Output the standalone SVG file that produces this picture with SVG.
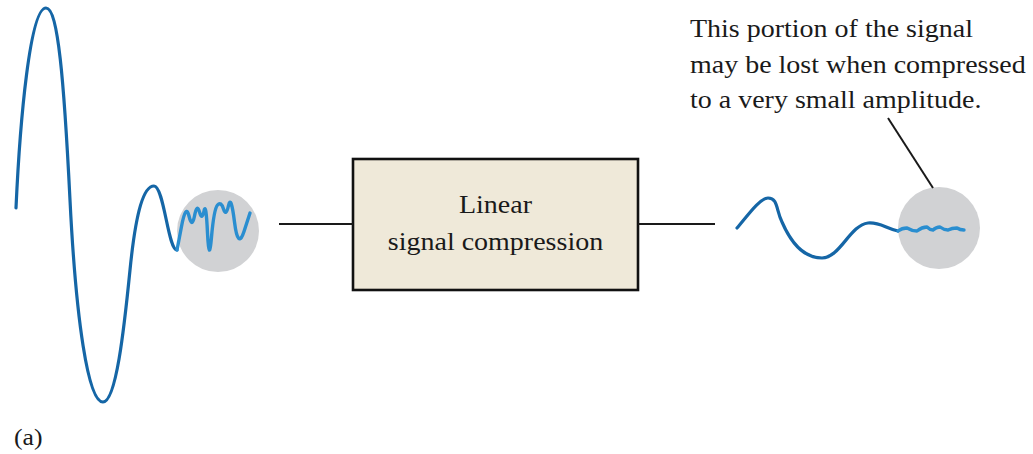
<svg xmlns="http://www.w3.org/2000/svg" width="1033" height="454" viewBox="0 0 1033 454">
<style>
.t{font-family:"Liberation Serif","Times New Roman",serif;font-size:25px;fill:#1a1a1a}
.sig{fill:none;stroke:#1566a6;stroke-width:3.2;stroke-linecap:round;stroke-linejoin:round}
.fine{fill:none;stroke:#2a8ed0;stroke-width:3.4;stroke-linecap:round;stroke-linejoin:round}
.lens{fill:#d1d2d4}
.wire{stroke:#1a1a1a;stroke-width:2;fill:none}
</style>
<g id="input-signal">
<circle class="lens" cx="218" cy="231" r="41"/>
<path class="sig" d="M16,208 C20,120 30,8 46,8 C58,8 64,80 70,200 C76,320 88,402 103,402 C116,402 124,330 130,270 C136,210 144,186 154,186 C164,186 168,250 177,250"/>
<path class="fine" d="M177,250 L181.5,226.5 Q186,203 189,216 Q192,229 194.5,216 Q197,203 199.5,212 Q202,221 204,211 Q206,201 207.5,233 Q209,265 211.5,237 Q214,209 217.5,205 Q221,201 223.5,209 Q226,217 228.5,205.5 Q231,194 234.5,222 Q238,250 244,231.5 L250,213"/>
</g>
<g id="compressor">
<rect x="353" y="159" width="285" height="131" fill="#efe9d9" stroke="#111" stroke-width="2.6"/>
<g transform="translate(495.5,0) scale(1.12,1)">
<text class="t" x="0" y="213" text-anchor="middle">Linear</text>
<text class="t" x="0" y="250" text-anchor="middle">signal compression</text>
</g>
</g>
<g id="output-signal">
<circle class="lens" cx="939" cy="228" r="41"/>
<path class="sig" d="M737,228 C748,215 760,198 768,198 C778,198 776,210 782,222 C792,245 806,258 822,258 C840,258 850,225 868,223 C880,222 885,228 898,231"/>
<path class="fine" d="M898,231 Q902,228 907,228 Q912,231 917,231 Q922,227 927,227 Q930,230 933,230 Q936,227 940,227 Q944,230 948,230 Q952,228 957,228 Q960,230 964,230"/>
</g>
<g id="annotation">
<g transform="translate(690,0) scale(1.12,1)">
<text class="t" x="0" y="37">This portion of the signal</text>
<text class="t" x="0" y="73">may be lost when compressed</text>
<text class="t" x="0" y="108">to a very small amplitude.</text>
</g>
</g>
<g id="label">
<g transform="translate(14,0) scale(1.12,1)">
<text class="t" x="0" y="445" style="font-size:23px">(a)</text>
</g>
</g>
<g id="connectors">
<line class="wire" x1="279" y1="224" x2="353" y2="224"/>
<line class="wire" x1="638" y1="224" x2="715" y2="224"/>
<line class="wire" x1="888" y1="118" x2="933" y2="188"/>
</g>
</svg>
